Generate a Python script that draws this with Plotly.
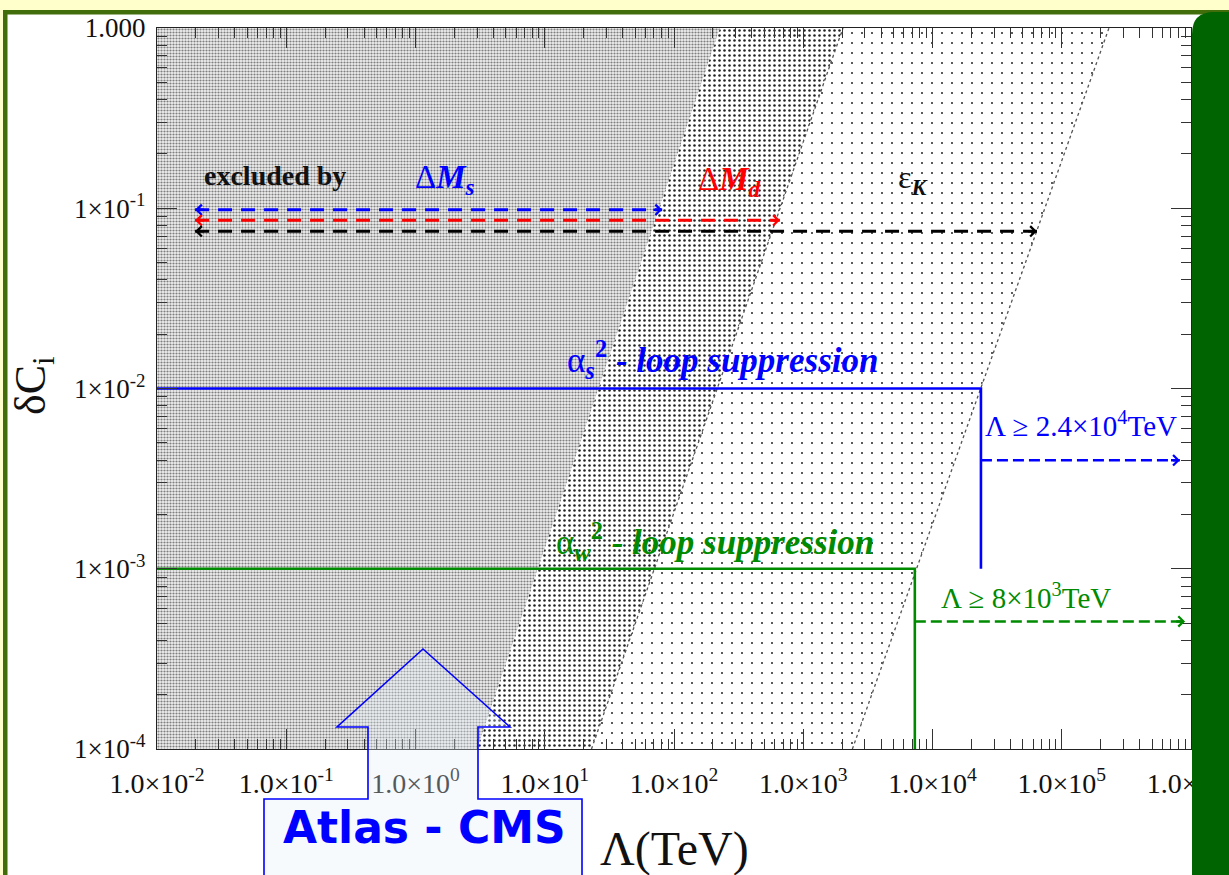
import numpy as np
import plotly.graph_objects as go

# ---------------- data ----------------
dc_range = [1e-4, 1.0]            # delta C_i at bottom / top of frame
lam_min = 1e-2                     # left edge of the Lambda axis
# right edges of the excluded regions (TeV) at dC = 1e-4 and dC = 1
edge_ms = [3.0, 227.0]
edge_md = [23.0, 2030.0]
edge_ek = [2400.0, 2.32e5]

# "excluded by" arrows
arrow_names = ["DMs", "DMd", "eK"]
arrow_start = [0.0197, 0.0197, 0.0197]
arrow_end = [81.0, 660.0, 64300.0]
arrow_level = [0.098, 0.0857, 0.0745]
arrow_colors = ["#0000ff", "#ff0000", "#000000"]

# loop-suppression lines
as_lam = [1e-2, 2.37e4, 2.37e4]
as_dc = [1e-2, 1e-2, 1e-3]
aw_lam = [1e-2, 7.3e3, 7.3e3]
aw_dc = [1e-3, 1e-3, 1e-4]

# lower-bound arrows
as_bound_lam = [2.37e4, 8.2e5]
as_bound_dc = [4.0e-3, 4.0e-3]
aw_bound_lam = [7.3e3, 9.0e5]
aw_bound_dc = [5.1e-4, 5.1e-4]

x_tickvals = [1e-2, 1e-1, 1e0, 1e1, 1e2, 1e3, 1e4, 1e5, 1e6]
x_ticktext = ["1.0×10<sup>-2</sup>", "1.0×10<sup>-1</sup>", "1.0×10<sup>0</sup>",
              "1.0×10<sup>1</sup>", "1.0×10<sup>2</sup>", "1.0×10<sup>3</sup>",
              "1.0×10<sup>4</sup>", "1.0×10<sup>5</sup>", "1.0×10<sup>6</sup>"]
y_tickvals = [1e-4, 1e-3, 1e-2, 1e-1, 1.0]
y_ticktext = ["1×10<sup>-4</sup>", "1×10<sup>-3</sup>", "1×10<sup>-2</sup>",
              "1×10<sup>-1</sup>", "1.000"]

# ---------------- layout geometry ----------------
W, H = 1229, 875
L, R, T, B = 157, 38, 28, 126
PW, PH = W - L - R, H - T - B


def px(x):
    return (x - L) / PW


def py(y):
    return (H - B - y) / PH


SERIF = "Liberation Serif, Times New Roman, serif"
BLUE = "#0000ff"
GREEN = "#008a00"
RED = "#ff0000"

fig = go.Figure()


def band(left, right, pattern):
    xs = [left[0], right[0], right[1], left[1], left[0]]
    ys = [dc_range[0], dc_range[0], dc_range[1], dc_range[1], dc_range[0]]
    fig.add_trace(go.Scatter(x=xs, y=ys, mode="lines", line=dict(width=0),
                             fill="toself", fillpattern=pattern,
                             hoverinfo="skip", showlegend=False))


band([lam_min, lam_min], edge_ms,
     dict(shape=".", size=3, solidity=0.42, fgcolor="#808080", bgcolor="#f0f0f0", fillmode="replace"))
band(edge_ms, edge_md,
     dict(shape=".", size=5, solidity=0.2, fgcolor="#222222", bgcolor="#ffffff", fillmode="replace"))
band(edge_md, edge_ek,
     dict(shape=".", size=10, solidity=0.03, fgcolor="#222222", bgcolor="#ffffff", fillmode="replace"))

for edge in (edge_md, edge_ek):
    fig.add_trace(go.Scatter(x=edge, y=dc_range, mode="lines",
                             line=dict(color="#555555", width=1.3, dash="dot"),
                             hoverinfo="skip", showlegend=False))

# loop suppression lines
fig.add_trace(go.Scatter(x=as_lam, y=as_dc, mode="lines",
                         line=dict(color=BLUE, width=2.6), showlegend=False))
fig.add_trace(go.Scatter(x=aw_lam, y=aw_dc, mode="lines",
                         line=dict(color=GREEN, width=2.6), showlegend=False))

# bound arrows (dashed)
fig.add_trace(go.Scatter(x=as_bound_lam, y=as_bound_dc, mode="lines",
                         line=dict(color=BLUE, width=2.5, dash="11px,5px"), showlegend=False))
fig.add_trace(go.Scatter(x=aw_bound_lam, y=aw_bound_dc, mode="lines",
                         line=dict(color=GREEN, width=2.5, dash="11px,5px"), showlegend=False))

# excluded-by arrows (dashed)
for s, e, lv, c in zip(arrow_start, arrow_end, arrow_level, arrow_colors):
    fig.add_trace(go.Scatter(x=[s, e], y=[lv, lv], mode="lines",
                             line=dict(color=c, width=3, dash="14px,9px"), showlegend=False))


def head(x, y, color, direction, size=0.8, width=2.5):
    lx, ly = float(np.log10(x)), float(np.log10(y))
    fig.add_annotation(x=lx, y=ly, ax=lx - direction * 0.08, ay=ly,
                       xref="x", yref="y", axref="x", ayref="y",
                       showarrow=True, arrowhead=4, arrowsize=size,
                       arrowwidth=width, arrowcolor=color, text="", standoff=0)


for s, e, lv, c in zip(arrow_start, arrow_end, arrow_level, arrow_colors):
    head(e, lv, c, +1)
    head(s, lv, c, -1)
head(as_bound_lam[1], as_bound_dc[1], BLUE, +1)
head(aw_bound_lam[1], aw_bound_dc[1], GREEN, +1)


def label(text, x, y, size, color, xanchor="left", family=SERIF, angle=0):
    fig.add_annotation(text=text, x=px(x), y=py(y), xref="paper", yref="paper",
                       xanchor=xanchor, yanchor="middle", showarrow=False,
                       textangle=angle, font=dict(family=family, size=size, color=color))


label("<b>excluded by</b>", 202, 175, 28, "#111111")
label("Δ<b><i>M</i></b><sub><b><i>s</i></b></sub>", 413, 179, 33, BLUE)
label("Δ<b><i>M</i></b><sub><b><i>d</i></b></sub>", 696, 181, 33, RED)
label("ε<sub><b><i>K</i></b></sub>", 896, 179, 32, "#111111")
label("α<sub><b><i>s</i></b></sub><sup><b>2</b></sup><b><i> - loop suppression</i></b>",
      565, 359, 35, BLUE)
label("α<sub><b><i>w</i></b></sub><sup><b>2</b></sup><b><i> - loop suppression</i></b>",
      554, 541, 35, GREEN)
label("Λ ≥ 2.4×10<sup>4</sup>TeV", 983, 424, 29, BLUE)
label("Λ ≥ 8×10<sup>3</sup>TeV", 939, 596, 29, GREEN)

# axis titles
label("Λ(TeV)", 674, 849, 48, "#111111", xanchor="center")
label("δC<sub>i</sub>", 33, 386, 44, "#111111", xanchor="center", angle=-90)

# ---------------- page decoration ----------------
shapes = []
# pale yellow strip on top
shapes.append(dict(type="rect", xref="paper", yref="paper", layer="below",
                   x0=px(0), x1=px(W), y0=py(10), y1=py(-2),
                   fillcolor="#ffffcc", line=dict(width=0)))
shapes.append(dict(type="rect", xref="paper", yref="paper", layer="below",
                   x0=px(-2), x1=px(3), y0=py(H + 2), y1=py(10),
                   fillcolor="#ffffcc", line=dict(width=0)))
# olive green frame
shapes.append(dict(type="rect", xref="paper", yref="paper", layer="below",
                   x0=px(3), x1=px(W + 2), y0=py(14.5), y1=py(10),
                   fillcolor="#416e0a", line=dict(width=0)))
shapes.append(dict(type="rect", xref="paper", yref="paper", layer="below",
                   x0=px(3), x1=px(7.5), y0=py(H + 2), y1=py(10),
                   fillcolor="#416e0a", line=dict(width=0)))
# dark green tab on the right
tab = ("M {a},{b} L {a},{c} Q {a},{d} {e},{d} L {f},{d} L {f},{b} Z").format(
    a=px(1192), b=py(H + 2), c=py(34), d=py(12), e=px(1214), f=px(W + 2))
shapes.append(dict(type="path", xref="paper", yref="paper", layer="above",
                   path=tab, fillcolor="#006400", line=dict(width=0)))
# Atlas - CMS arrow box
pts = [(264, H + 5), (264, 799), (368, 799), (368, 727), (337, 727), (423, 649),
       (510, 727), (478, 727), (478, 799), (582, 799), (582, H + 5)]
path = "M " + " L ".join("{:.5f},{:.5f}".format(px(a), py(b)) for a, b in pts)
shapes.append(dict(type="path", xref="paper", yref="paper", layer="above",
                   path=path, fillcolor="rgba(226,239,250,0.32)",
                   line=dict(color="#0000ff", width=1.6)))
fig.update_layout(shapes=shapes)

label("<b>Atlas - CMS</b>", 424, 827, 44, "#0000ff", xanchor="center",
      family="DejaVu Sans, Arial, sans-serif")

axis_common = dict(type="log", showgrid=False, zeroline=False, showline=True,
                   linecolor="#222222", linewidth=1.2, ticks="inside", ticklen=20,
                   tickwidth=1, tickcolor="#333333", mirror="allticks",
                   ticklabeloverflow="allow")

fig.update_xaxes(range=[-2, 6], tickmode="array", tickvals=x_tickvals, ticktext=x_ticktext,
                 ticklabelstandoff=9,
                 tickfont=dict(family=SERIF, size=28, color="#111111"),
                 minor=dict(ticks="inside", ticklen=10, tickcolor="#333333",
                            dtick="D1", showgrid=False),
                 **axis_common)
fig.update_yaxes(range=[-4, 0], tickmode="array", tickvals=y_tickvals, ticktext=y_ticktext,
                 ticklabelstandoff=5,
                 tickfont=dict(family=SERIF, size=27, color="#111111"),
                 minor=dict(ticks="inside", ticklen=10, tickcolor="#333333",
                            dtick="D1", showgrid=False),
                 **axis_common)

fig.update_layout(width=W, height=H, margin=dict(l=L, r=R, t=T, b=B, autoexpand=False),
                  paper_bgcolor="#ffffff", plot_bgcolor="#ffffff", showlegend=False)

fig.write_html("out.html")
